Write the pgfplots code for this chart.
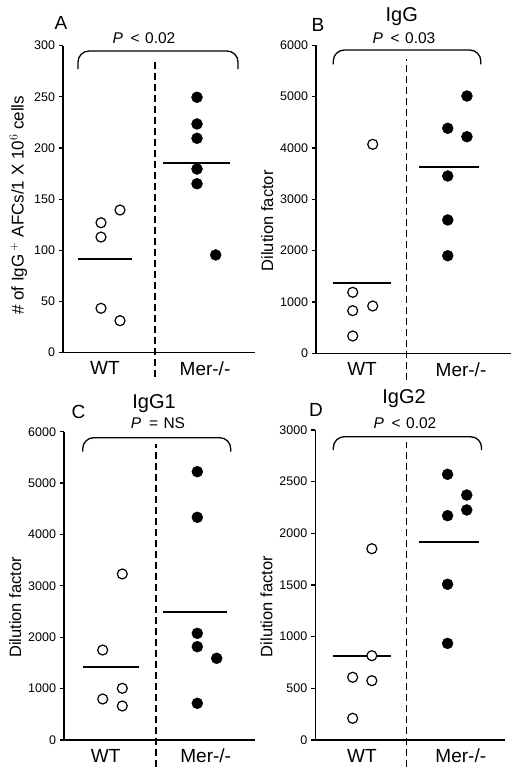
\documentclass[border=0pt]{standalone}
\usepackage{pgfplots}
\pgfplotsset{compat=1.18}
\usepackage{fontspec}
\setmainfont{Liberation Sans}
\begin{document}
\begin{tikzpicture}[x=1pt,y=1pt]
\path (0,0) rectangle (512,773);
\pgfplotsset{
  panel/.style={
    scale only axis,
    anchor=south west,
    axis x line=bottom, axis y line=left,
    axis line style={-, line width=1.5pt},
    clip=false,
    xtick={1,2}, xticklabels={WT, Mer-/-},
    x tick style={draw=none},
    tick align=outside,
    ytick pos=left,
    y tick style={line width=1.2pt, black},
    major tick length=4.5pt,
    xticklabel style={font=\fontsize{19}{21}\selectfont, yshift=-1pt},
    yticklabel style={font=\fontsize{12.5}{14}\selectfont},
    /pgf/number format/assume math mode=true,
    /pgf/number format/1000 sep={},
    ylabel style={font=\fontsize{16.5}{18}\selectfont},
  },
  wt/.style={only marks, mark=*, mark size=5pt, mark options={line width=1.2pt, draw=black, fill=white}},
  mer/.style={only marks, mark=*, mark size=5.5pt, mark options={draw=black, fill=black}},
  meanl/.style={black, line width=2pt, no marks},
  divl/.style={black, line width=1.6pt, dash pattern=on 7pt off 4pt},
  brk/.style={black, line width=1.3pt, rounded corners=11pt},
}
\tikzset{ttl/.style={font=\fontsize{20}{22}\selectfont, anchor=base}, pv/.style={font=\fontsize{15.5}{18}\selectfont, anchor=base}, lt/.style={font=\fontsize{19}{21}\selectfont, anchor=base}}
% Panel A
\begin{axis}[panel, at={(63pt,420.3pt)}, width=192pt, height=307pt,
  xmin=0.58, xmax=2.5, ymin=0, ymax=300, ytick={0,50,...,300},
  ylabel={\# of IgG\,$^{+}$ AFCs/1 X 10$^{6}$ cells}, ylabel style={font=\fontsize{17}{19}\selectfont, at={(ticklabel cs:0.48)}}]
\addplot[wt] coordinates {(0.96,127) (0.96,113) (0.96,43.4) (1.15,139.4) (1.15,31.3)};
\addplot[mer] coordinates {(1.92,249.6) (1.92,223.5) (1.92,209.5) (1.92,179.5) (1.92,165.1) (2.107,95.5)};
\addplot[meanl] coordinates {(0.73,91.6) (1.27,91.6)};
\addplot[meanl] coordinates {(1.58,185) (2.25,185)};
\addplot[divl] coordinates {(1.5,-23.7) (1.5,287)};
\addplot[brk] coordinates {(0.73,277) (0.73,294.8) (2.33,294.8) (2.33,277)};
\end{axis}
% Panel B
\begin{axis}[panel, at={(316pt,419.7pt)}, width=194.5pt, height=308pt,
  xmin=0.535, xmax=2.5, ymin=0, ymax=6000, ytick={0,1000,...,6000},
  ylabel={Dilution factor}, ylabel style={at={(ticklabel cs:0.43)}}]
\addplot[wt] coordinates {(0.906,1188) (0.906,830) (0.906,337) (1.108,4071) (1.108,921)};
\addplot[mer] coordinates {(1.866,4383) (1.866,3454) (1.866,2597) (1.866,1901) (2.06,5012) (2.06,4219)};
\addplot[meanl] coordinates {(0.71,1375) (1.29,1375)};
\addplot[meanl] coordinates {(1.58,3635) (2.18,3635)};
\addplot[divl] coordinates {(1.45,-520) (1.45,5735)};
\addplot[brk] coordinates {(0.71,5630) (0.71,5908) (2.2,5908) (2.2,5630)};
\end{axis}
% Panel C
\begin{axis}[panel, at={(64pt,33pt)}, width=190.7pt, height=308.3pt,
  xmin=0.583, xmax=2.49, ymin=0, ymax=6000, ytick={0,1000,...,6000},
  ylabel={Dilution factor}, ylabel style={at={(ticklabel cs:0.43)}}]
\addplot[wt] coordinates {(0.97,1751) (0.97,798) (1.166,3231) (1.166,1006) (1.166,662)};
\addplot[mer] coordinates {(1.916,5222) (1.916,4334) (1.916,2076) (1.916,1816) (1.916,714) (2.11,1590)};
\addplot[meanl] coordinates {(0.77,1427) (1.336,1427)};
\addplot[meanl] coordinates {(1.576,2497) (2.216,2497)};
\addplot[divl] coordinates {(1.5,-520) (1.5,5752)};
\addplot[brk] coordinates {(0.77,5611) (0.77,5883) (2.25,5883) (2.25,5611)};
\end{axis}
% Panel D
\begin{axis}[panel, at={(315.3pt,33pt)}, width=190pt, height=310pt,
  xmin=0.528, xmax=2.45, ymin=0, ymax=3000, ytick={0,500,...,3000},
  ylabel={Dilution factor}, ylabel style={at={(ticklabel cs:0.43)}}]
\addplot[wt] coordinates {(0.906,607) (0.906,210) (1.10,1851) (1.10,816) (1.10,574)};
\addplot[mer] coordinates {(1.866,2571) (1.866,2171) (1.866,1507) (1.866,935) (2.06,2371) (2.06,2226)};
\addplot[meanl] coordinates {(0.71,816) (1.29,816)};
\addplot[meanl] coordinates {(1.58,1913) (2.18,1913)};
\addplot[divl] coordinates {(1.45,-258) (1.45,2887)};
\addplot[brk] coordinates {(0.71,2806) (0.71,2935) (2.21,2935) (2.21,2806)};
\end{axis}
% Texts
\node[lt] at (61,743) {A};
\node[pv] at (144,729) {\textit{P}\hspace{0.5em}<\hspace{0.35em}0.02};
\node[lt] at (318,741.3) {B};
\node[ttl] at (401.7,751.3) {IgG};
\node[pv] at (404,729) {\textit{P}\hspace{0.5em}<\hspace{0.35em}0.03};
\node[lt] at (78.5,354.7) {C};
\node[ttl] at (154,364.7) {IgG1};
\node[pv] at (158,344.7) {\textit{P}\hspace{0.5em}=\hspace{0.35em}NS};
\node[lt] at (316,356.3) {D};
\node[ttl] at (404,369) {IgG2};
\node[pv] at (405,344.7) {\textit{P}\hspace{0.5em}<\hspace{0.35em}0.02};
\end{tikzpicture}
\end{document}
